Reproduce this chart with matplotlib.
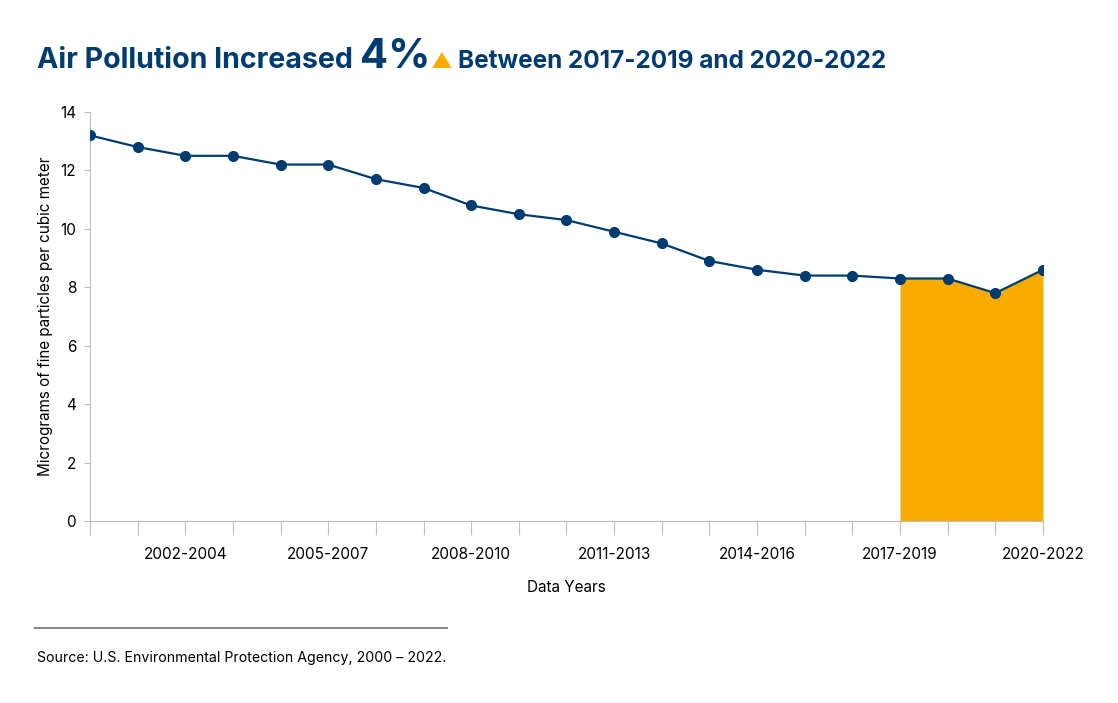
import matplotlib.pyplot as plt
from matplotlib.lines import Line2D

periods = [
    "2000-2002", "2001-2003", "2002-2004", "2003-2005", "2004-2006",
    "2005-2007", "2006-2008", "2007-2009", "2008-2010", "2009-2011",
    "2010-2012", "2011-2013", "2012-2014", "2013-2015", "2014-2016",
    "2015-2017", "2016-2018", "2017-2019", "2018-2020", "2019-2021",
    "2020-2022",
]
pm25 = [13.2, 12.8, 12.5, 12.5, 12.2, 12.2, 11.7, 11.4, 10.8, 10.5, 10.3,
        9.9, 9.5, 8.9, 8.6, 8.4, 8.4, 8.3, 8.3, 7.8, 8.6]
labelled = ["2002-2004", "2005-2007", "2008-2010", "2011-2013",
            "2014-2016", "2017-2019", "2020-2022"]
highlight_start = "2017-2019"

NAVY = "#003b71"
GOLD = "#f9ab00"
GREY = "#bdbdbd"

plt.rcParams["font.family"] = ["Inter", "DejaVu Sans"]

fig = plt.figure(figsize=(11.18, 7.03), dpi=100)
ax = fig.add_axes([0.0805, 0.2589, 0.8524, 0.5818])

x = list(range(len(periods)))
h = periods.index(highlight_start)
ax.fill_between(x[h:], pm25[h:], 0, color=GOLD, lw=0, zorder=1)
ax.plot(x, pm25, color=NAVY, lw=1.6, marker="o", ms=7, zorder=3)

ax.set_xlim(0, len(periods) - 1)
ax.set_ylim(0, 14)
ax.set_yticks(range(0, 15, 2))
ax.set_xticks(x)
ax.set_xticklabels([p if p in labelled else "" for p in periods])
ax.tick_params(axis="x", length=10, color=GREY, labelsize=11, pad=9)
ax.tick_params(axis="y", length=4, color=GREY, labelsize=11, pad=6)
for side in ["top", "right"]:
    ax.spines[side].set_visible(False)
for side in ["left", "bottom"]:
    ax.spines[side].set_color(GREY)
ax.set_xlabel("Data Years", fontsize=11, labelpad=13)
ax.set_ylabel("Micrograms of fine particles per cubic meter", fontsize=11,
              labelpad=5)

# title pieces laid out one after another
fig.canvas.draw()
renderer = fig.canvas.get_renderer()
pieces = [
    ("Air Pollution Increased ", 20.6, NAVY, 0),
    ("4%", 30, NAVY, 1),
    ("\u25b2 ", 15, GOLD, 0),
    ("Between 2017-2019 and 2020-2022", 17.5, NAVY, 0),
]
xpos = 37
for txt, size, col, kern in pieces:
    t = fig.text(xpos / 1118, 1 - 68 / 703, txt, fontsize=size, color=col,
                 fontweight="bold", va="baseline", ha="left",
                 family=["Inter", "DejaVu Sans"])
    bb = t.get_window_extent(renderer)
    xpos += bb.width + kern

fig.add_artist(Line2D([35 / 1118, 447 / 1118], [1 - 628 / 703] * 2,
                      color="#8a8a8a", lw=1.5))
fig.text(37 / 1118, 1 - 658 / 703,
         "Source: U.S. Environmental Protection Agency, 2000 \u2013 2022.",
         fontsize=10.2, va="center", ha="left")

fig.savefig("out.png", dpi=100)
